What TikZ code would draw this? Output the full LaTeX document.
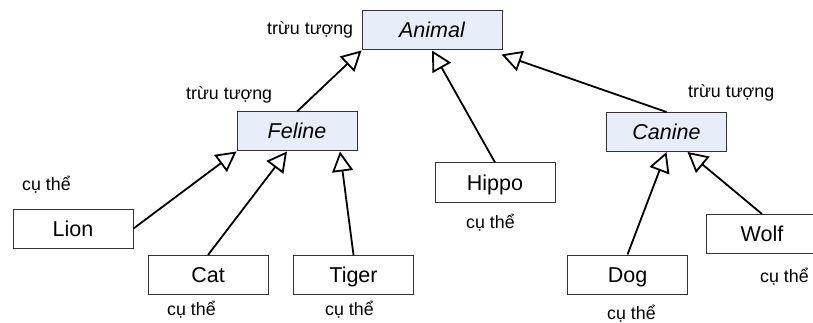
\documentclass[tikz,border=0pt]{standalone}
\usepackage{fontspec}
\setmainfont{Liberation Sans}
\usepackage{xcolor}
\usetikzlibrary{arrows.meta}
\definecolor{absfill}{RGB}{232,238,249}

\tikzset{
    cls/.style={draw=black!80,line width=1pt,minimum width=120pt,minimum height=39pt,
        inner sep=0pt,text height=15pt,text depth=0pt,font=\fontsize{21.5}{24}\selectfont},
    abscls/.style={cls,fill=absfill,font=\fontsize{21.5}{24}\selectfont\itshape},
    note/.style={inner sep=0pt,anchor=base west,font=\fontsize{17.8}{20}\selectfont},
    inherit/.style={->,line width=1.8pt}
}

\begin{document}
\begin{tikzpicture}[x=1pt,y=-1pt,>={Triangle[open,length=20pt,width=21pt]}]
    \useasboundingbox (0,0) rectangle (813,323);
    % classes
    \node[abscls,minimum width=140pt] (animal) at (432,30.5) {Animal};
    \node[abscls] (feline) at (297,131.5) {Feline};
    \node[abscls] (canine) at (666.5,132) {Canine};
    \node[cls] (hippo) at (495,182.5) {Hippo};
    \node[cls] (lion) at (73,228.5) {Lion};
    \node[cls] (cat) at (208,275) {Cat};
    \node[cls] (tiger) at (353.5,275) {Tiger};
    \node[cls] (dog) at (627.5,274.5) {Dog};
    \node[cls,minimum width=112pt] (wolf) at (762,234) {Wolf};
    % labels
    \node[note] (nanimal) at (267,35) {trừu tượng};
    \node[note] (nfeline) at (186,100) {trừu tượng};
    \node[note] (ncanine) at (688,98) {trừu tượng};
    \node[note] (nlion) at (22,190) {cụ thể};
    \node[note] (ncat) at (167,315) {cụ thể};
    \node[note] (ntiger) at (325,315) {cụ thể};
    \node[note] (nhippo) at (466,228) {cụ thể};
    \node[note] (ndog) at (607,319) {cụ thể};
    \node[note] (nwolf) at (760,282) {cụ thể};
    % inheritance
    \coordinate (animalse) at ([xshift=-1pt,yshift=-4pt]animal.south east);
    \draw[inherit] (feline.north) -- (animal.south west);
    \draw[inherit] (hippo.north) -- (animal.south);
    \draw[inherit] (canine.north) -- (animalse);
    \draw[inherit] (lion.east) -- (feline.south west);
    \draw[inherit] (cat.north) -- ([xshift=-10pt]feline.south);
    \draw[inherit] (tiger.north) -- ([xshift=43pt]feline.south);
    \draw[inherit] (dog.north) -- (canine.south);
    \draw[inherit] (wolf.north) -- ([xshift=21pt]canine.south);
\end{tikzpicture}
\end{document}
